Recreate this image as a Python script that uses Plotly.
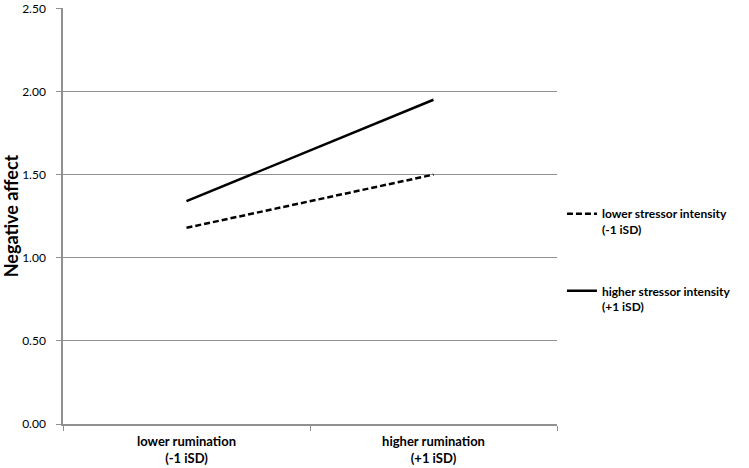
import plotly.graph_objects as go

rumination = ["lower rumination<br>(-1 iSD)", "higher rumination<br>(+1 iSD)"]
low_stress = [1.18, 1.50]
high_stress = [1.34, 1.95]
y_ticks = [0.0, 0.5, 1.0, 1.5, 2.0, 2.5]

font_family = "Lato, 'Open Sans', sans-serif"

fig = go.Figure()
fig.add_trace(go.Scatter(
    x=rumination, y=low_stress, mode="lines",
    name="lower stressor intensity<br>(-1 iSD)",
    line=dict(color="black", width=2.5, dash="6px,3px"),
    legendgroup="low",
))
fig.add_trace(go.Scatter(
    x=rumination, y=high_stress, mode="lines",
    name="higher stressor intensity<br>(+1 iSD)",
    line=dict(color="black", width=2.5),
    legendgroup="high",
))

fig.update_layout(
    width=749, height=468,
    margin=dict(l=63, r=192, t=8, b=44),
    plot_bgcolor="white", paper_bgcolor="white",
    font=dict(family=font_family, size=12, color="black"),
    showlegend=True,
    legend=dict(
        x=1.01, y=0.54, xanchor="left", yanchor="top",
        valign="top", tracegroupgap=43,
        font=dict(size=12, family=font_family, weight="bold"),
        bgcolor="rgba(0,0,0,0)",
    ),
)
fig.update_xaxes(
    type="category", range=[-0.5, 1.5],
    showline=True, linecolor="#909090", linewidth=1.5,
    showgrid=False, ticks="outside", tickson="boundaries",
    ticklen=5, tickcolor="#909090",
    ticklabelstandoff=5, automargin=False,
    tickfont=dict(size=13, weight="bold"),
)
fig.update_yaxes(
    range=[0, 2.502], tickvals=y_ticks, tickformat=".2f",
    showline=True, linecolor="#909090", linewidth=1.5,
    showgrid=True, gridcolor="#909090", gridwidth=1,
    ticks="outside", ticklen=5, tickcolor="#909090",
    ticklabelstandoff=8, ticklabeloverflow="allow", automargin=False,
    tickfont=dict(size=12),
    zeroline=False,
    title=dict(text="Negative affect", font=dict(size=18, weight="bold"), standoff=6),
)

# drop the browser's default page margin so the chart sits at the window corner
fig.write_html(
    "out.html",
    config={"displayModeBar": False},
    post_script="document.body.style.margin='0';",
)
